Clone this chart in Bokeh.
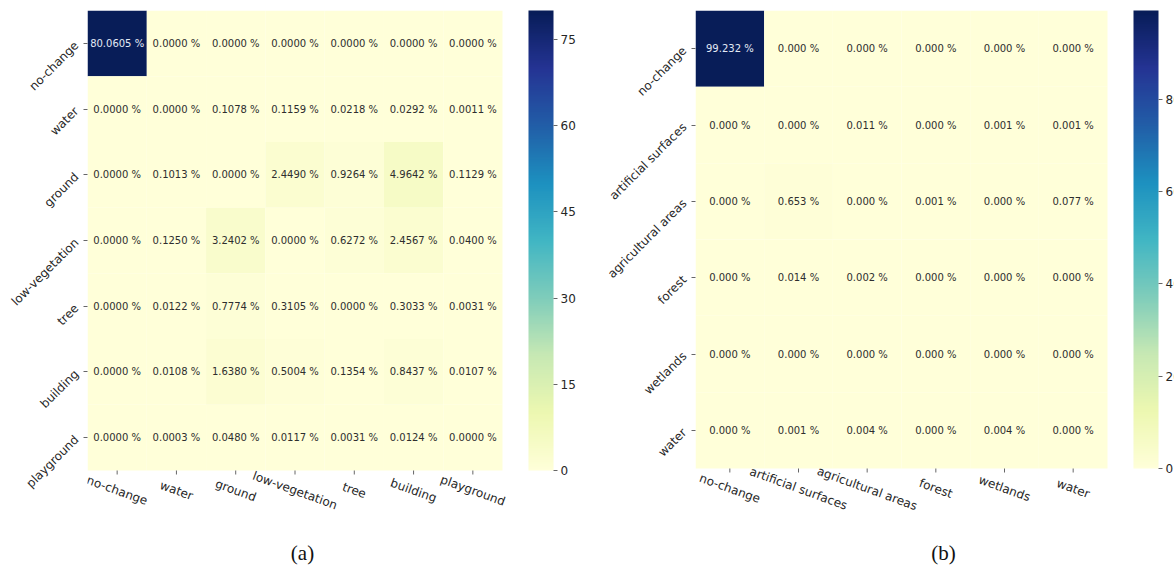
from math import pi

from bokeh.core.properties import value
from bokeh.embed import file_html
from bokeh.layouts import row
from bokeh.models import (ColorBar, ColumnDataSource, FixedTicker, Label,
                          LinearColorMapper, Range1d)
from bokeh.palettes import YlGnBu9, interp_palette
from bokeh.plotting import figure
from bokeh.resources import INLINE

# ---- data -------------------------------------------------------------
classes_a = ["no-change", "water", "ground", "low-vegetation", "tree",
             "building", "playground"]
matrix_a = [
    [80.0605, 0.0000, 0.0000, 0.0000, 0.0000, 0.0000, 0.0000],
    [0.0000, 0.0000, 0.1078, 0.1159, 0.0218, 0.0292, 0.0011],
    [0.0000, 0.1013, 0.0000, 2.4490, 0.9264, 4.9642, 0.1129],
    [0.0000, 0.1250, 3.2402, 0.0000, 0.6272, 2.4567, 0.0400],
    [0.0000, 0.0122, 0.7774, 0.3105, 0.0000, 0.3033, 0.0031],
    [0.0000, 0.0108, 1.6380, 0.5004, 0.1354, 0.8437, 0.0107],
    [0.0000, 0.0003, 0.0480, 0.0117, 0.0031, 0.0124, 0.0000],
]
cbar_ticks_a = [0, 15, 30, 45, 60, 75]

classes_b = ["no-change", "artificial surfaces", "agricultural areas",
             "forest", "wetlands", "water"]
matrix_b = [
    [99.232, 0.000, 0.000, 0.000, 0.000, 0.000],
    [0.000, 0.000, 0.011, 0.000, 0.001, 0.001],
    [0.000, 0.653, 0.000, 0.001, 0.000, 0.077],
    [0.000, 0.014, 0.002, 0.000, 0.000, 0.000],
    [0.000, 0.000, 0.000, 0.000, 0.000, 0.000],
    [0.000, 0.001, 0.004, 0.000, 0.004, 0.000],
]
cbar_ticks_b = [0, 20, 40, 60, 80]

# light (low) -> dark (high)
PALETTE = interp_palette(list(reversed(YlGnBu9)), 256)

LABEL_FONT = "DejaVu Sans"
TEXT_DARK = "#262626"
TICK_COLOR = "#666666"
TOTAL_H = 566
TOP = 10
RIGHT_ROOM = 40   # px of frame kept right of the matrix for the last name
CAPTION_Y = 552   # caption centre, px from the top of the canvas


def heatmap(classes, matrix, decimals, ticks, caption, *, border_left,
            mat_w, mat_h, border_right, caption_cx):
    """Confusion matrix with cells centred on integer positions.

    The frame reaches down to the bottom of the canvas so that the tilted
    class names and the caption below the matrix can be drawn in it."""
    n = len(classes)
    cell_w, cell_h = mat_w / n, mat_h / n
    frame_h = TOTAL_H - TOP
    vmax = max(max(r) for r in matrix)

    xs, ys, vals, texts, colors = [], [], [], [], []
    for i, r in enumerate(matrix):
        for j, v in enumerate(r):
            xs.append(j)
            ys.append(n - 1 - i)
            vals.append(v)
            texts.append(f"{v:.{decimals}f} %")
            colors.append("#e3eaf5" if v > 0.5 * vmax else "#2e2e2e")
    src = ColumnDataSource(dict(x=xs, y=ys, v=vals, t=texts, c=colors))

    mapper = LinearColorMapper(palette=PALETTE, low=0, high=vmax)

    px_x = 1 / cell_w   # data units per pixel
    px_y = 1 / cell_h
    p = figure(x_range=Range1d(-0.5, n - 0.5 + RIGHT_ROOM * px_x),
               y_range=Range1d(n - 0.5 - frame_h * px_y, n - 0.5),
               frame_width=mat_w + RIGHT_ROOM, frame_height=frame_h,
               min_border_left=border_left,
               min_border_right=border_right - RIGHT_ROOM,
               min_border_top=TOP, min_border_bottom=0,
               x_axis_location=None,
               output_backend="svg", toolbar_location=None,
               background_fill_color="white", border_fill_color="white")
    p.grid.grid_line_color = None
    p.outline_line_color = None

    p.rect(x="x", y="y", width=1, height=1, source=src,
           fill_color={"field": "v", "transform": mapper}, line_color=None)
    p.text(x="x", y="y", text="t", source=src, text_color="c",
           text_align="center", text_baseline="middle",
           text_font=value(LABEL_FONT), text_font_size="10px")

    # row names on the y axis
    rows = list(range(n))
    yax = p.yaxis[0]
    yax.ticker = FixedTicker(ticks=rows)
    yax.major_label_overrides = {n - 1 - i: c for i, c in enumerate(classes)}
    yax.axis_line_color = None
    yax.major_tick_in = 0
    yax.major_tick_out = 4
    yax.major_tick_line_color = TICK_COLOR
    yax.minor_tick_line_color = None
    yax.major_label_text_font = LABEL_FONT
    yax.major_label_text_font_size = "12px"
    yax.major_label_text_color = TEXT_DARK
    yax.major_label_standoff = 7
    yax.major_label_orientation = pi / 4

    # column ticks and tilted column names under the matrix
    base = -0.5
    cols = list(range(n))
    p.segment(x0=cols, y0=base, x1=cols, y1=base - 4 * px_y,
              line_color=TICK_COLOR, line_width=1)
    p.text(x=cols, y=base - 20 * px_y, text=classes, angle=-20 * pi / 180,
           text_align="center", text_baseline="middle",
           text_font=value(LABEL_FONT), text_font_size="12px",
           text_color=TEXT_DARK)

    cb = ColorBar(color_mapper=mapper, ticker=FixedTicker(ticks=ticks),
                  location=(mat_w + 26, frame_h - mat_h), width=25,
                  height=mat_h, padding=0, margin=0, bar_line_color=None,
                  background_fill_alpha=0,
                  major_tick_in=0, major_tick_out=4,
                  major_tick_line_color=TICK_COLOR,
                  major_label_text_font=LABEL_FONT,
                  major_label_text_font_size="12px",
                  major_label_text_color=TEXT_DARK, label_standoff=3)
    p.add_layout(cb)

    p.add_layout(Label(x=caption_cx - border_left, y=TOTAL_H - CAPTION_Y,
                       x_units="screen", y_units="screen",
                       text=caption, text_align="center",
                       text_baseline="middle",
                       text_font="Liberation Serif", text_font_size="21px",
                       text_color="#111111"))
    return p


pa = heatmap(classes_a, matrix_a, 4, cbar_ticks_a, "(a)",
             border_left=87, mat_w=415, mat_h=460,
             border_right=85, caption_cx=302)
pb = heatmap(classes_b, matrix_b, 3, cbar_ticks_b, "(b)",
             border_left=108, mat_w=412, mat_h=458,
             border_right=67, caption_cx=943 - 587)

layout = row(pa, pb, spacing=0)
open("out.html", "w").write(file_html(layout, INLINE))
